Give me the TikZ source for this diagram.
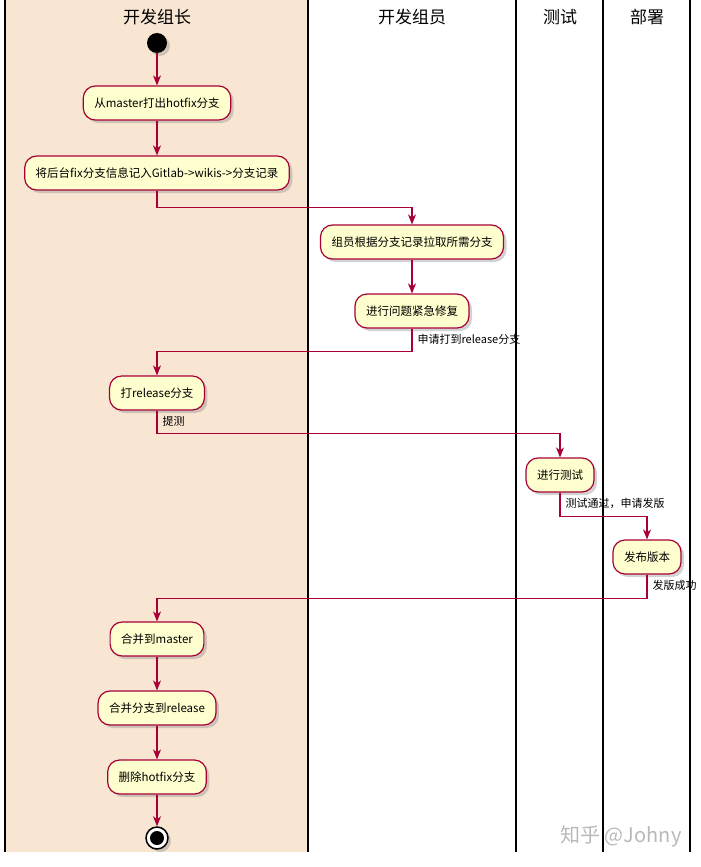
\documentclass[tikz,border=0pt]{standalone}
\usepackage{fontspec}
\setmainfont{Noto Sans CJK SC}
\usetikzlibrary{shapes}
\usetikzlibrary{arrows.meta}
\usetikzlibrary{shadows}
\definecolor{bordeaux}{HTML}{A80036}
\definecolor{creme}{HTML}{FEFECE}
\definecolor{beige}{HTML}{F8E6D3}
\tikzstyle{ombre}=[drop shadow={shadow xshift=3pt,shadow yshift=-3pt,opacity=0.35}]
\tikzstyle{activite}=[
        rectangle,
        draw=bordeaux,
        fill=creme,
        line width=1.2pt,
        rounded corners=12pt,
        minimum height=34pt,
        inner xsep=11pt,
        font=\fontsize{11.5}{13}\selectfont,
        ombre
]
\tikzstyle{debut}=[circle,fill=black,minimum size=20pt,inner sep=0pt,ombre]
\tikzstyle{fin}=[circle,draw=black,fill=white,line width=1.5pt,minimum size=22pt,inner sep=0pt,ombre]
\tikzstyle{titre}=[font=\fontsize{17}{20}\selectfont]
\tikzstyle{etiquette}=[anchor=north west,inner sep=1pt,xshift=4pt,yshift=-4pt,font=\fontsize{11}{12}\selectfont]
\tikzstyle{couloir}=[line width=2.2pt]
\tikzstyle{suite}=[-{Stealth[length=10pt,width=8pt,inset=3pt]},draw=bordeaux,line width=1.1pt]

\begin{document}
\begin{tikzpicture}[x=1pt,y=-1pt]
\useasboundingbox (0,0) rectangle (701,867);
%Couloirs
\fill[beige] (5,0) rectangle (308,852);
\foreach \xc in {5,308,516,603,690}
  \draw[couloir] (\xc,0) -- (\xc,852);
\node[titre] (t1) at (157,17) {开发组长};
\node[titre] (t2) at (412,17) {开发组员};
\node[titre] (t3) at (560,17) {测试};
\node[titre] (t4) at (647,17) {部署};
%Activites
\node[debut] (a) at (157,43) {};
\node[activite] (b) at (157,103) {从master打出hotfix分支};
\node[activite] (c) at (157,173) {将后台fix分支信息记入Gitlab->wikis->分支记录};
\node[activite] (d) at (412,242) {组员根据分支记录拉取所需分支};
\node[activite] (e) at (412,311) {进行问题紧急修复};
\node[activite] (f) at (157,393) {打release分支};
\node[activite] (g) at (560,475) {进行测试};
\node[activite] (h) at (647,557) {发布版本};
\node[activite] (i) at (157,639) {合并到master};
\node[activite] (j) at (157,708) {合并分支到release};
\node[activite] (k) at (157,777) {删除hotfix分支};
\node[fin] (l) at (157,838) {};
\fill (l) circle (7pt);
%Fleches
\draw[suite] (a) -- (b);
\draw[suite] (b) -- (c);
\draw[suite] (c.south) -- ++(0,17) -| (d.north);
\draw[suite] (d) -- (e);
\draw[suite] (e.south) -- ++(0,23) -| (f.north)
  node[etiquette] at (e.south) {申请打到release分支};
\draw[suite] (f.south) -- ++(0,23) -| (g.north)
  node[etiquette] at (f.south) {提测};
\draw[suite] (g.south) -- ++(0,24) -| (h.north)
  node[etiquette] at (g.south) {测试通过，申请发版};
\draw[suite] (h.south) -- ++(0,24) -| (i.north)
  node[etiquette] at (h.south) {发版成功};
\draw[suite] (i) -- (j);
\draw[suite] (j) -- (k);
\draw[suite] (k) -- (l);
%Filigrane
\node[text=gray!55,font=\fontsize{20}{22}\selectfont] (w) at (621,836) {知乎 @Johny};
\end{tikzpicture}
\end{document}
